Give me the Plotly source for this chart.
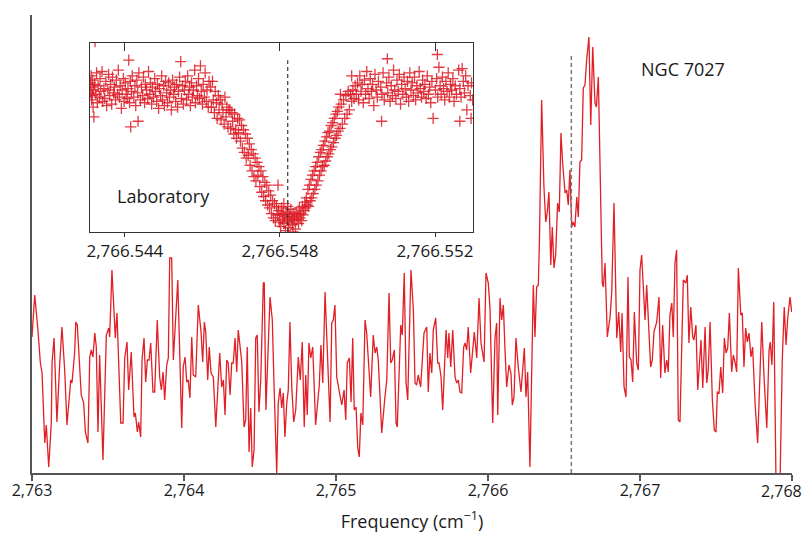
import plotly.graph_objects as go

RED = "#e11f26"

# ---------------- Main spectrum (NGC 7027) ----------------
FREQ = [
    2763.000, 2763.018, 2763.039, 2763.055, 2763.066, 2763.084, 2763.094, 2763.110, 2763.127, 2763.132,
    2763.145, 2763.164, 2763.182, 2763.197, 2763.215, 2763.230, 2763.255, 2763.263, 2763.281, 2763.288,
    2763.298, 2763.314, 2763.324, 2763.340, 2763.351, 2763.368, 2763.380, 2763.390, 2763.401, 2763.413,
    2763.423, 2763.434, 2763.445, 2763.467, 2763.489, 2763.505, 2763.511, 2763.526, 2763.548, 2763.559,
    2763.584, 2763.599, 2763.610, 2763.625, 2763.636, 2763.653, 2763.671, 2763.680, 2763.693, 2763.702,
    2763.715, 2763.724, 2763.737, 2763.748, 2763.759, 2763.770, 2763.781, 2763.796, 2763.807, 2763.824,
    2763.840, 2763.851, 2763.862, 2763.873, 2763.886, 2763.897, 2763.906, 2763.919, 2763.930, 2763.959,
    2763.985, 2763.995, 2764.007, 2764.018, 2764.028, 2764.039, 2764.051, 2764.061, 2764.077, 2764.094,
    2764.112, 2764.123, 2764.134, 2764.143, 2764.156, 2764.166, 2764.178, 2764.193, 2764.209, 2764.222,
    2764.235, 2764.248, 2764.259, 2764.270, 2764.281, 2764.291, 2764.303, 2764.314, 2764.324, 2764.336,
    2764.347, 2764.357, 2764.380, 2764.395, 2764.406, 2764.416, 2764.428, 2764.439, 2764.449, 2764.461,
    2764.472, 2764.482, 2764.493, 2764.505, 2764.522, 2764.528, 2764.539, 2764.566, 2764.581, 2764.592,
    2764.610, 2764.620, 2764.632, 2764.643, 2764.653, 2764.664, 2764.676, 2764.686, 2764.697, 2764.709,
    2764.722, 2764.735, 2764.752, 2764.765, 2764.778, 2764.791, 2764.801, 2764.811, 2764.822, 2764.834,
    2764.847, 2764.866, 2764.884, 2764.890, 2764.901, 2764.913, 2764.928, 2764.943, 2764.961, 2764.972,
    2764.982, 2764.993, 2765.005, 2765.022, 2765.038, 2765.053, 2765.064, 2765.074, 2765.088, 2765.099,
    2765.110, 2765.120, 2765.132, 2765.143, 2765.153, 2765.164, 2765.176, 2765.191, 2765.202, 2765.228,
    2765.245, 2765.257, 2765.268, 2765.278, 2765.301, 2765.322, 2765.334, 2765.349, 2765.360, 2765.370,
    2765.384, 2765.395, 2765.403, 2765.426, 2765.436, 2765.449, 2765.461, 2765.472, 2765.493, 2765.509,
    2765.520, 2765.531, 2765.541, 2765.557, 2765.579, 2765.597, 2765.607, 2765.618, 2765.630, 2765.640,
    2765.656, 2765.669, 2765.678, 2765.691, 2765.702, 2765.724, 2765.735, 2765.743, 2765.755, 2765.768,
    2765.783, 2765.794, 2765.805, 2765.816, 2765.827, 2765.840, 2765.849, 2765.860, 2765.870, 2765.886,
    2765.897, 2765.910, 2765.926, 2765.941, 2765.954, 2765.974, 2765.987, 2766.002, 2766.013, 2766.031,
    2766.046, 2766.057, 2766.064, 2766.079, 2766.090, 2766.101, 2766.112, 2766.123, 2766.138, 2766.151,
    2766.160, 2766.171, 2766.184, 2766.199, 2766.217, 2766.226, 2766.239, 2766.250, 2766.261, 2766.276,
    2766.298, 2766.309, 2766.320, 2766.331, 2766.338, 2766.353, 2766.368, 2766.380, 2766.390, 2766.401,
    2766.413, 2766.423, 2766.434, 2766.445, 2766.458, 2766.469, 2766.480, 2766.491, 2766.507, 2766.518,
    2766.528, 2766.539, 2766.551, 2766.561, 2766.572, 2766.584, 2766.594, 2766.605, 2766.616, 2766.627,
    2766.638, 2766.649, 2766.664, 2766.676, 2766.689, 2766.704, 2766.713, 2766.726, 2766.741, 2766.752,
    2766.759, 2766.770, 2766.785, 2766.803, 2766.814, 2766.829, 2766.847, 2766.860, 2766.873, 2766.882,
    2766.895, 2766.908, 2766.921, 2766.930, 2766.941, 2766.952, 2766.963, 2766.978, 2766.989, 2767.000,
    2767.011, 2767.026, 2767.033, 2767.044, 2767.055, 2767.070, 2767.081, 2767.092, 2767.110, 2767.125,
    2767.136, 2767.149, 2767.164, 2767.176, 2767.186, 2767.197, 2767.209, 2767.219, 2767.230, 2767.241,
    2767.252, 2767.263, 2767.285, 2767.301, 2767.311, 2767.322, 2767.334, 2767.347, 2767.355, 2767.368,
    2767.380, 2767.390, 2767.401, 2767.413, 2767.428, 2767.439, 2767.449, 2767.461, 2767.476, 2767.489,
    2767.500, 2767.509, 2767.520, 2767.531, 2767.544, 2767.555, 2767.566, 2767.577, 2767.588, 2767.603,
    2767.614, 2767.625, 2767.636, 2767.647, 2767.663, 2767.673, 2767.684, 2767.695, 2767.706, 2767.717,
    2767.730, 2767.741, 2767.757, 2767.774, 2767.785, 2767.801, 2767.816, 2767.834, 2767.849, 2767.857,
    2767.868, 2767.880, 2767.895, 2767.921, 2767.936, 2767.949, 2767.961, 2767.972, 2767.987, 2767.998,
]

INTENSITY = [
    136, 178, 143, 110, 100, 30, 48, 6, 50, 110,
    135, 51, 108, 146, 103, 48, 93, 90, 121, 151,
    148, 100, 78, 70, 41, 30, 116, 123, 116, 140,
    126, 41, 118, 13, 138, 145, 136, 203, 135, 160,
    50, 50, 115, 131, 83, 121, 56, 60, 41, 51,
    36, 113, 135, 91, 113, 113, 130, 81, 81, 153,
    96, 83, 101, 73, 108, 115, 215, 215, 113, 193,
    45, 106, 116, 91, 93, 75, 136, 98, 96, 168,
    141, 111, 151, 141, 93, 126, 100, 96, 46, 83,
    120, 86, 93, 58, 113, 110, 78, 110, 110, 135,
    101, 143, 111, 46, 53, 126, 21, 65, 6, 23,
    135, 138, 61, 93, 190, 190, 63, 176, 153, 90,
    0, 70, 85, 65, 80, 36, 70, 83, 151, 86,
    51, 63, 116, 93, 131, 46, 98, 58, 130, 115,
    126, 48, 85, 88, 128, 90, 181, 123, 51, 150,
    153, 168, 96, 81, 68, 83, 53, 110, 115, 71,
    135, 63, 66, 25, 16, 60, 48, 153, 140, 76,
    138, 120, 126, 113, 40, 76, 93, 180, 110, 113,
    123, 50, 46, 148, 138, 200, 90, 73, 203, 163,
    90, 88, 98, 86, 140, 146, 81, 120, 100, 143,
    155, 110, 110, 96, 63, 143, 115, 140, 106, 143,
    96, 90, 93, 81, 80, 126, 130, 123, 146, 100,
    116, 141, 115, 175, 130, 111, 200, 190, 165, 50,
    135, 150, 58, 175, 153, 168, 123, 86, 108, 100,
    68, 76, 135, 106, 81, 96, 125, 76, 101, 6,
    188, 136, 186, 188, 230, 373, 286, 251, 261, 281,
    208, 246, 205, 218, 270, 261, 340, 310, 280, 283,
    268, 303, 246, 251, 246, 276, 256, 311, 313, 385,
    388, 413, 436, 348, 426, 370, 366, 396, 296, 190,
    186, 210, 136, 156, 181, 270, 135, 161, 121, 160,
    86, 76, 196, 116, 113, 91, 161, 110, 103, 203,
    218, 173, 153, 188, 146, 106, 113, 141, 151, 176,
    95, 148, 100, 113, 101, 158, 170, 136, 210, 223,
    53, 51, 193, 190, 198, 130, 166, 136, 133, 148,
    83, 113, 133, 85, 146, 90, 103, 151, 73, 43,
    41, 81, 80, 106, 80, 135, 120, 125, 160, 101,
    118, 111, 101, 205, 158, 160, 106, 145, 131, 140,
    116, 126, 70, 30, 83, 151, 96, 45, 123, 131,
    108, 171, -12, -12, 113, 166, 128, 155, 176, 161,
]

# ---------------- Laboratory spectrum (inset) ----------------
LAB_FREQ = [
    2766.54311, 2766.54312, 2766.54313, 2766.54314, 2766.54315, 2766.54316, 2766.54317, 2766.54318, 2766.54319, 2766.54320,
    2766.54322, 2766.54323, 2766.54325, 2766.54327, 2766.54329, 2766.54331, 2766.54334, 2766.54336, 2766.54338, 2766.54341,
    2766.54343, 2766.54346, 2766.54348, 2766.54351, 2766.54353, 2766.54356, 2766.54358, 2766.54361, 2766.54363, 2766.54366,
    2766.54368, 2766.54371, 2766.54373, 2766.54376, 2766.54378, 2766.54381, 2766.54383, 2766.54386, 2766.54388, 2766.54391,
    2766.54393, 2766.54396, 2766.54398, 2766.54401, 2766.54403, 2766.54406, 2766.54408, 2766.54410, 2766.54412, 2766.54414,
    2766.54415, 2766.54417, 2766.54419, 2766.54423, 2766.54426, 2766.54428, 2766.54431, 2766.54433, 2766.54434, 2766.54436,
    2766.54440, 2766.54443, 2766.54446, 2766.54448, 2766.54451, 2766.54453, 2766.54456, 2766.54459, 2766.54461, 2766.54464,
    2766.54466, 2766.54469, 2766.54471, 2766.54474, 2766.54477, 2766.54479, 2766.54482, 2766.54484, 2766.54487, 2766.54489,
    2766.54492, 2766.54495, 2766.54497, 2766.54500, 2766.54502, 2766.54505, 2766.54508, 2766.54510, 2766.54513, 2766.54515,
    2766.54518, 2766.54520, 2766.54523, 2766.54526, 2766.54528, 2766.54531, 2766.54533, 2766.54536, 2766.54538, 2766.54541,
    2766.54544, 2766.54546, 2766.54549, 2766.54551, 2766.54554, 2766.54556, 2766.54559, 2766.54562, 2766.54564, 2766.54567,
    2766.54569, 2766.54572, 2766.54574, 2766.54577, 2766.54580, 2766.54582, 2766.54585, 2766.54587, 2766.54590, 2766.54592,
    2766.54595, 2766.54597, 2766.54600, 2766.54602, 2766.54605, 2766.54607, 2766.54610, 2766.54612, 2766.54615, 2766.54617,
    2766.54621, 2766.54623, 2766.54626, 2766.54628, 2766.54631, 2766.54633, 2766.54636, 2766.54638, 2766.54641, 2766.54643,
    2766.54646, 2766.54648, 2766.54651, 2766.54653, 2766.54656, 2766.54658, 2766.54661, 2766.54663, 2766.54666, 2766.54668,
    2766.54671, 2766.54673, 2766.54676, 2766.54678, 2766.54681, 2766.54683, 2766.54686, 2766.54688, 2766.54691, 2766.54693,
    2766.54696, 2766.54698, 2766.54701, 2766.54703, 2766.54706, 2766.54708, 2766.54711, 2766.54713, 2766.54716, 2766.54718,
    2766.54721, 2766.54723, 2766.54726, 2766.54728, 2766.54731, 2766.54733, 2766.54736, 2766.54738, 2766.54741, 2766.54743,
    2766.54746, 2766.54748, 2766.54751, 2766.54753, 2766.54756, 2766.54758, 2766.54761, 2766.54763, 2766.54766, 2766.54768,
    2766.54771, 2766.54773, 2766.54776, 2766.54778, 2766.54781, 2766.54783, 2766.54786, 2766.54788, 2766.54791, 2766.54793,
    2766.54796, 2766.54798, 2766.54800, 2766.54802, 2766.54804, 2766.54806, 2766.54808, 2766.54810, 2766.54812, 2766.54814,
    2766.54816, 2766.54818, 2766.54820, 2766.54822, 2766.54824, 2766.54826, 2766.54828, 2766.54830, 2766.54832, 2766.54834,
    2766.54836, 2766.54838, 2766.54840, 2766.54842, 2766.54844, 2766.54846, 2766.54848, 2766.54850, 2766.54852, 2766.54854,
    2766.54856, 2766.54858, 2766.54860, 2766.54862, 2766.54864, 2766.54795, 2766.54834, 2766.54866, 2766.54868, 2766.54870,
    2766.54872, 2766.54874, 2766.54876, 2766.54878, 2766.54880, 2766.54882, 2766.54884, 2766.54886, 2766.54888, 2766.54890,
    2766.54892, 2766.54894, 2766.54896, 2766.54898, 2766.54900, 2766.54902, 2766.54904, 2766.54906, 2766.54908, 2766.54910,
    2766.54912, 2766.54914, 2766.54916, 2766.54918, 2766.54920, 2766.54922, 2766.54924, 2766.54926, 2766.54928, 2766.54930,
    2766.54932, 2766.54934, 2766.54936, 2766.54938, 2766.54940, 2766.54942, 2766.54944, 2766.54946, 2766.54948, 2766.54950,
    2766.54952, 2766.54955, 2766.54958, 2766.54961, 2766.54964, 2766.54967, 2766.54970, 2766.54973, 2766.54976, 2766.54979,
    2766.54982, 2766.54985, 2766.54988, 2766.54991, 2766.54994, 2766.54997, 2766.54956, 2766.54985, 2766.55000, 2766.55003,
    2766.55006, 2766.55009, 2766.55012, 2766.55015, 2766.55018, 2766.55021, 2766.55024, 2766.55027, 2766.55030, 2766.55033,
    2766.55036, 2766.55039, 2766.55042, 2766.55045, 2766.55048, 2766.55051, 2766.55054, 2766.55062, 2766.55060, 2766.55063,
    2766.55066, 2766.55069, 2766.55077, 2766.55075, 2766.55078, 2766.55081, 2766.55084, 2766.55087, 2766.55090, 2766.55093,
    2766.55096, 2766.55099, 2766.55102, 2766.55105, 2766.55108, 2766.55111, 2766.55114, 2766.55117, 2766.55120, 2766.55123,
    2766.55126, 2766.55129, 2766.55132, 2766.55135, 2766.55138, 2766.55141, 2766.55144, 2766.55147, 2766.55150, 2766.55153,
    2766.55156, 2766.55159, 2766.55162, 2766.55165, 2766.55168, 2766.55171, 2766.55174, 2766.55177, 2766.55180, 2766.55183,
    2766.55186, 2766.55189, 2766.55192, 2766.55195, 2766.55206, 2766.55201, 2766.55204, 2766.55207, 2766.55210, 2766.55213,
    2766.55216, 2766.55219, 2766.55222, 2766.55225, 2766.55228, 2766.55231, 2766.55234, 2766.55237, 2766.55240, 2766.55243,
    2766.55246, 2766.55249, 2766.55252, 2766.55255, 2766.55264, 2766.55261, 2766.55264, 2766.55267, 2766.55270, 2766.55273,
    2766.55276, 2766.55279, 2766.55282, 2766.55285, 2766.55293, 2766.55291, 2766.55294, 2766.55297, 2766.54820, 2766.54810,
]

LAB_SIGNAL = [
    1.05, 0.98, 1.10, 0.93, 1.02, 0.96, 1.07, 0.88, 1.00, 0.81,
    1.04, 1.34, 0.97, 1.12, 0.91, 1.03, 0.95, 1.08, 0.99, 1.13,
    0.92, 1.01, 0.94, 1.06, 0.89, 1.00, 1.11, 0.96, 1.04, 0.90,
    1.09, 0.98, 1.02, 0.93, 1.07, 0.97, 1.14, 0.95, 1.03, 0.87,
    1.00, 1.08, 0.92, 1.05, 0.97, 0.94, 1.01, 1.21, 0.91, 1.06,
    0.74, 0.99, 1.10, 0.95, 1.03, 0.89, 1.07, 0.98, 0.78, 1.12,
    0.93, 1.02, 0.96, 1.09, 0.91, 1.04, 1.00, 0.94, 1.13, 0.97,
    1.05, 0.90, 1.02, 0.95, 1.08, 0.99, 0.92, 1.04, 0.87, 1.01,
    0.96, 1.10, 0.93, 1.03, 0.89, 1.06, 0.98, 0.91, 1.05, 0.95,
    1.00, 0.86, 1.07, 0.97, 1.02, 0.92, 1.04, 0.88, 0.99, 1.09,
    1.20, 0.94, 1.03, 0.90, 1.00, 1.06, 0.93, 1.10, 0.97, 1.02,
    0.89, 1.05, 0.95, 1.00, 1.14, 0.91, 1.03, 0.96, 1.08, 0.94,
    1.17, 0.99, 0.90, 1.04, 0.95, 1.12, 0.92, 1.00, 0.88, 1.06,
    1.02, 0.88, 1.06, 0.93, 0.84, 0.99, 0.91, 0.80, 0.96, 0.86,
    0.93, 0.79, 0.90, 0.84, 0.76, 0.95, 0.81, 0.88, 0.74, 0.86,
    0.86, 0.73, 0.84, 0.78, 0.69, 0.83, 0.72, 0.66, 0.80, 0.70,
    0.79, 0.64, 0.75, 0.59, 0.72, 0.56, 0.69, 0.52, 0.66, 0.54,
    0.62, 0.47, 0.58, 0.43, 0.55, 0.39, 0.52, 0.36, 0.49, 0.40,
    0.46, 0.32, 0.43, 0.28, 0.39, 0.25, 0.35, 0.22, 0.33, 0.19,
    0.29, 0.17, 0.26, 0.13, 0.22, 0.10, 0.20, 0.08, 0.18, 0.12,
    0.15, 0.07, 0.12, 0.04, 0.17, 0.09, 0.13, 0.06, 0.11, 0.01,
    0.14, 0.08, 0.10, 0.03, 0.12, 0.07, 0.16, 0.09, 0.05, 0.13,
    0.08, 0.11, 0.02, 0.14, 0.09, 0.12, 0.06, 0.17, 0.10, 0.13,
    0.08, 0.18, 0.12, 0.15, 0.21, 0.33, 0.00, 0.17, 0.24, 0.19,
    0.30, 0.18, 0.33, 0.22, 0.37, 0.24, 0.40, 0.27, 0.43, 0.30,
    0.46, 0.33, 0.49, 0.36, 0.53, 0.40, 0.56, 0.43, 0.58, 0.46,
    0.61, 0.47, 0.64, 0.50, 0.67, 0.53, 0.70, 0.55, 0.71, 0.58,
    0.75, 0.60, 0.77, 0.63, 0.80, 0.66, 0.83, 0.68, 0.85, 0.71,
    0.88, 0.73, 0.90, 0.76, 0.93, 0.80, 0.96, 0.83, 0.99, 0.86,
    0.97, 0.92, 1.00, 0.94, 1.03, 0.97, 0.97, 1.10, 1.05, 0.93,
    1.10, 0.99, 1.04, 0.91, 1.07, 0.97, 1.13, 1.01, 0.94, 1.08,
    0.99, 1.04, 0.89, 1.11, 1.00, 0.95, 1.06, 0.78, 1.02, 0.97,
    1.12, 0.93, 1.22, 1.05, 0.98, 1.09, 0.92, 1.03, 0.96, 1.14,
    1.00, 0.94, 1.07, 0.99, 1.11, 0.90, 1.04, 0.97, 1.09, 1.01,
    0.95, 1.06, 0.92, 1.12, 1.00, 1.05, 0.96, 1.09, 0.93, 1.03,
    0.98, 1.13, 1.01, 0.95, 1.07, 0.99, 1.04, 0.94, 1.10, 0.97,
    1.02, 0.91, 1.06, 0.80, 1.25, 1.00, 1.08, 0.95, 1.16, 1.03,
    0.97, 1.09, 1.01, 0.93, 1.06, 0.99, 1.12, 0.95, 1.04, 1.00,
    1.08, 0.92, 1.03, 0.97, 0.78, 1.14, 1.01, 0.95, 1.15, 1.06,
    0.98, 1.10, 0.86, 1.03, 0.80, 0.96, 1.05, 0.93, 0.18, 0.20,
]

REST_FREQ = 2766.5482          # dashed reference line (cm^-1)
NGC_LINE_TOP = 420              # top of dashed line in main panel (arb. units)
LAB_LINE_TOP = 1.21             # top of dashed line in inset (arb. units)

MAIN_TICKS = [2763, 2764, 2765, 2766, 2767, 2768]
MAIN_TICK_TEXT = ["2,763", "2,764", "2,765", "2,766", "2,767", ""]
LAST_TICK_TEXT = "2,768"
LAB_TICKS = [2766.544, 2766.548, 2766.552]
MAIN_XRANGE = [2763, 2768]
MAIN_YRANGE = [0, 458]
LAB_XRANGE = [2766.54310, 2766.55298]
LAB_YRANGE = [0, 1.331]

assert len(FREQ) == len(INTENSITY)
assert len(LAB_FREQ) == len(LAB_SIGNAL)

FONT = "Open Sans, Noto Sans, Arial, sans-serif"
AXIS_GREY = "#555555"
INSET_LINE = "#333333"
TEXT = "#1a1a1a"

fig = go.Figure()

fig.add_trace(go.Scatter(
    x=FREQ, y=INTENSITY, mode="lines",
    line=dict(color=RED, width=1.3),
    xaxis="x", yaxis="y", hoverinfo="skip", showlegend=False,
))

fig.add_trace(go.Scatter(
    x=LAB_FREQ, y=LAB_SIGNAL, mode="markers",
    marker=dict(symbol="cross-thin", size=8, color=RED,
                line=dict(color="rgba(220,25,35,0.85)", width=1.3)),
    xaxis="x2", yaxis="y2", hoverinfo="skip", showlegend=False,
))

# Dashed rest-frequency line in the inset (on the top overlay axis)
fig.add_trace(go.Scatter(
    x=[REST_FREQ, REST_FREQ], y=[0, LAB_LINE_TOP], mode="lines",
    line=dict(color="#3a3a3a", width=1.2, dash="4px,3px"),
    xaxis="x3", yaxis="y2", hoverinfo="skip", showlegend=False,
))

# Dashed rest-frequency line in the main panel
fig.add_trace(go.Scatter(
    x=[REST_FREQ, REST_FREQ], y=[0, NGC_LINE_TOP], mode="lines",
    line=dict(color="#777777", width=1.5, dash="4px,3px"),
    xaxis="x", yaxis="y", hoverinfo="skip", showlegend=False,
))

fig.update_layout(
    width=804, height=536,
    margin=dict(l=32, r=12, t=15, b=63),
    paper_bgcolor="white", plot_bgcolor="white",
    font=dict(family=FONT, size=16, color=TEXT),
    xaxis=dict(
        domain=[0, 1], anchor="y", range=MAIN_XRANGE,
        tickvals=MAIN_TICKS, ticktext=MAIN_TICK_TEXT,
        ticks="outside", ticklen=6, tickwidth=1.5, tickcolor=AXIS_GREY,
        ticklabelstandoff=-4,
        showline=True, linecolor=AXIS_GREY, linewidth=1.5,
        showgrid=False, zeroline=False, automargin=False,
        tickfont=dict(size=16, color=TEXT),
        title=dict(text="Frequency (cm<sup>−1</sup>)", standoff=15,
                   font=dict(size=18, color=TEXT)),
    ),
    yaxis=dict(
        domain=[0, 1], anchor="x", range=MAIN_YRANGE,
        showline=True, linecolor=AXIS_GREY, linewidth=1.5, automargin=False,
        showticklabels=False, ticks="", showgrid=False, zeroline=False,
    ),
    xaxis2=dict(
        domain=[0.0763, 0.5803], anchor="y2", range=LAB_XRANGE,
        tickvals=LAB_TICKS, tickformat=",.3f",
        ticks="outside", ticklen=4, tickwidth=1.2, tickcolor=INSET_LINE,
        ticklabelstandoff=0,
        showline=True, mirror=True, linecolor=INSET_LINE, linewidth=1,
        showgrid=False, zeroline=False, automargin=False,
        tickfont=dict(size=17, color=TEXT),
    ),
    xaxis3=dict(
        overlaying="x2", anchor="y2", side="top", range=LAB_XRANGE,
        tickvals=LAB_TICKS, ticks="inside", ticklen=8, tickwidth=1.2,
        tickcolor=INSET_LINE, showticklabels=False, showline=False,
        showgrid=False, zeroline=False, automargin=False,
    ),
    yaxis2=dict(
        domain=[0.5262, 0.9389], anchor="x2", range=LAB_YRANGE,
        showline=True, mirror=True, linecolor=INSET_LINE, linewidth=1,
        showticklabels=False, ticks="", showgrid=False, zeroline=False,
        automargin=False,
    ),
    annotations=[
        dict(text="NGC 7027", xref="paper", yref="paper", x=0.857, y=0.882,
             showarrow=False, xanchor="center", yanchor="middle",
             font=dict(size=18, color=TEXT)),
        dict(text="Laboratory", xref="paper", yref="paper", x=0.173, y=0.605,
             showarrow=False, xanchor="center", yanchor="middle",
             font=dict(size=18, color=TEXT)),
        dict(text=LAST_TICK_TEXT, xref="paper", yref="paper", x=1.0158, y=-0.0393,
             showarrow=False, xanchor="right", yanchor="middle",
             font=dict(size=16, color=TEXT)),
    ],
)

fig.write_html("out.html")
